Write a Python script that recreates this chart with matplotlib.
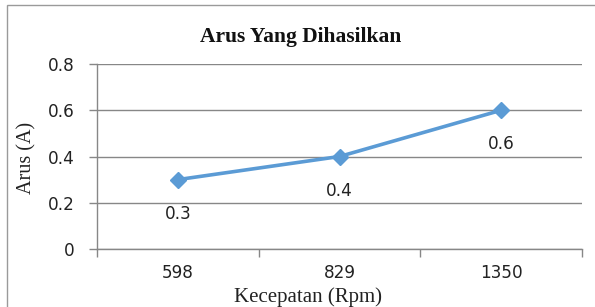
import matplotlib
matplotlib.use("Agg")
import matplotlib.pyplot as plt
from matplotlib.patches import Rectangle

categories = ["598", "829", "1350"]
values = [0.3, 0.4, 0.6]
value_labels = ["0.3", "0.4", "0.6"]
yticks = [0, 0.2, 0.4, 0.6, 0.8]
ytick_labels = ["0", "0.2", "0.4", "0.6", "0.8"]
title = "Arus Yang Dihasilkan"
xlabel = "Kecepatan (Rpm)"
ylabel = "Arus (A)"

W, H = 595, 307
fig = plt.figure(figsize=(W / 100, H / 100), dpi=100)
fig.patch.set_facecolor("white")

# outer border
fig.patches.append(Rectangle((7 / W, -0.1), 1.2, 1 - 5 / H + 0.1, transform=fig.transFigure,
                             fill=False, edgecolor="#9a9a9a", linewidth=1.0))

ax = fig.add_axes([97 / W, 58 / H, (582 - 97) / W, (249 - 64) / H])
ax.set_facecolor("white")

x = list(range(len(categories)))
ax.plot(x, values, color="#5B9BD5", linewidth=2.6, marker="D", markersize=8.5,
        markerfacecolor="#5B9BD5", markeredgecolor="#5B9BD5", zorder=3)

for xi, v, lab in zip(x, values, value_labels):
    ax.annotate(lab, (xi, v), xytext=(0, -24.5), textcoords="offset points",
                ha="center", va="center", fontsize=12.2, family="DejaVu Sans", color="#222222")

ax.set_xlim(-0.5, len(categories) - 0.5)
ax.set_ylim(0, 0.8)
ax.set_yticks(yticks)
ax.set_yticklabels(ytick_labels, fontsize=12.2, family="DejaVu Sans", color="#222222")
ax.set_xticks([i - 0.5 for i in range(len(categories) + 1)])
ax.set_xticklabels([])
ax.set_xticks(x, minor=True)
ax.set_xticklabels(categories, minor=True, fontsize=12.2, family="DejaVu Sans", color="#222222")
ax.tick_params(axis="x", which="major", length=6, color="#878787", width=1)
ax.tick_params(axis="x", which="minor", length=0, pad=11)
ax.tick_params(axis="y", length=6, color="#878787", width=1, pad=10)

ax.grid(axis="y", color="#878787", linewidth=1.0)
ax.set_axisbelow(True)
for s in ["top", "right"]:
    ax.spines[s].set_visible(False)
for s in ["left", "bottom"]:
    ax.spines[s].set_color("#878787")
    ax.spines[s].set_linewidth(1.0)

fig.text(301 / W, 1 - 42 / H, title, ha="center", va="baseline", fontsize=15.5,
         fontweight="bold", family="Liberation Serif", color="#111111")
fig.text(308 / W, 1 - 302 / H, xlabel, ha="center", va="baseline", fontsize=15,
         family="Liberation Serif", color="#222222")
fig.text(27 / W, 1 - 158 / H, ylabel, ha="center", va="center", rotation=90, fontsize=14.5,
         family="Liberation Serif", color="#222222")

fig.savefig("out.png", dpi=100, facecolor="white")
